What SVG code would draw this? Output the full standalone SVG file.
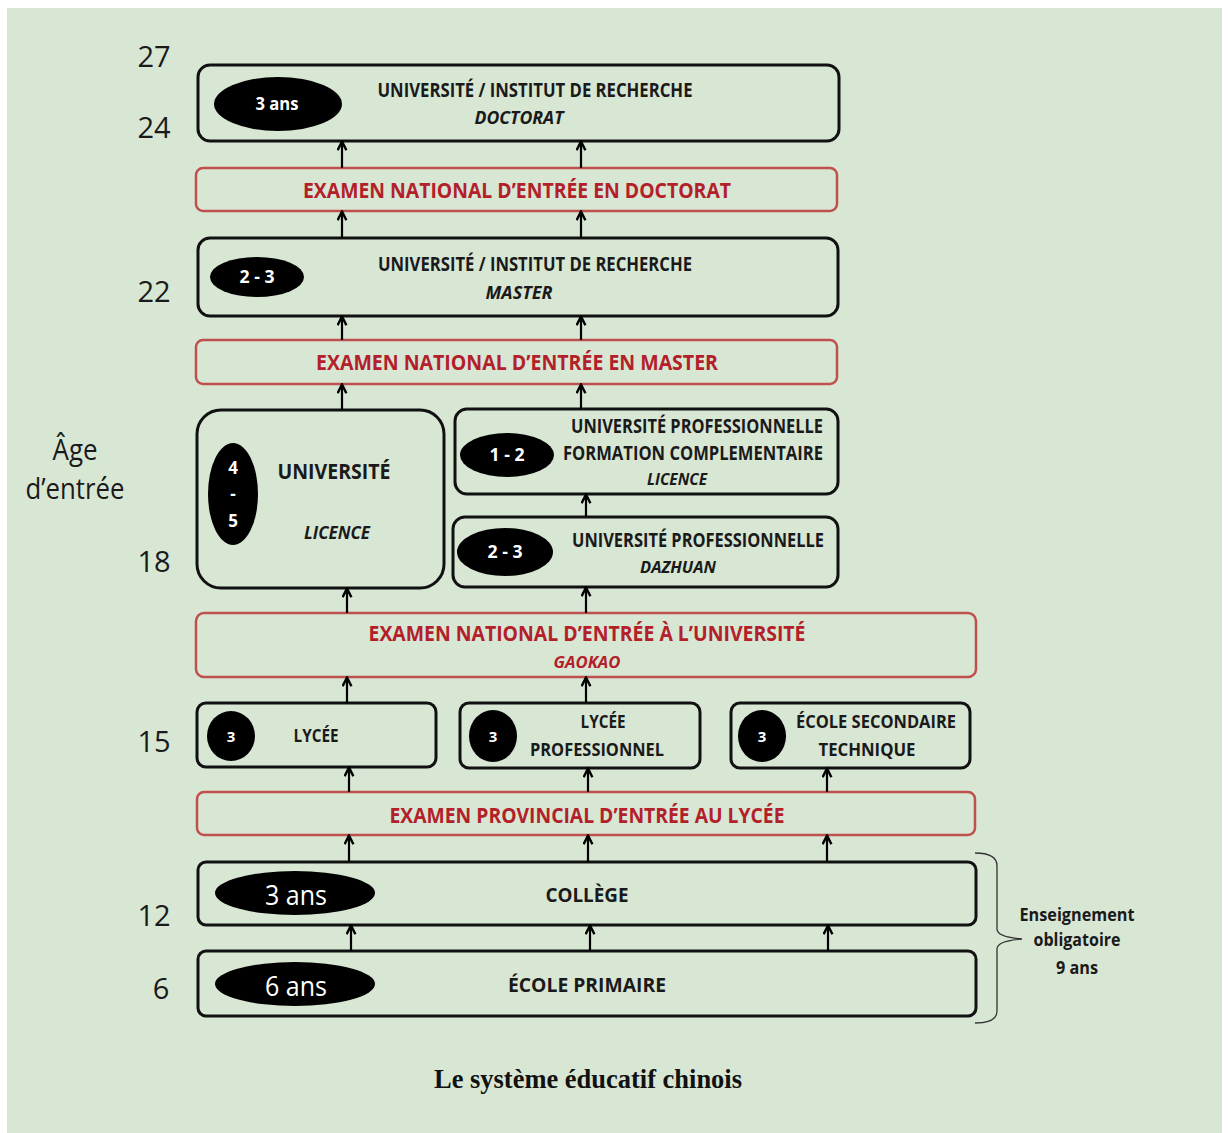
<svg xmlns="http://www.w3.org/2000/svg" width="1230" height="1133" viewBox="0 0 1230 1133">
<defs>
<marker id="arr" viewBox="0 0 10 10" refX="8.5" refY="5" markerWidth="11" markerHeight="11" markerUnits="userSpaceOnUse" orient="auto">
<path d="M1,1 L9,5 L1,9" fill="none" stroke="#000" stroke-width="2.2"/>
</marker>
</defs>
<style>
.box{fill:none;stroke:#111;stroke-width:3}
.exam{fill:none;stroke:#c0504d;stroke-width:2.5}
.t{font-family:"Open Sans","Liberation Sans",sans-serif;font-weight:700;fill:#1a1a1a;text-anchor:middle}
.it{font-style:italic}
.r{fill:#b3202a}
.w{fill:#fff}
.big{font-weight:400;font-size:27px}
.age{font-family:"Open Sans","Liberation Sans",sans-serif;font-size:29px;fill:#1a1a1a;text-anchor:middle}
.conn line{stroke:#000;stroke-width:2.2}
.pill{fill:#000}
</style>
<rect x="0" y="0" width="1230" height="1133" fill="#fff"/>
<rect x="7" y="8" width="1215" height="1125" fill="#d8e6d4"/>

<g id="ages">
<text class="age" x="154" y="67">27</text>
<text class="age" x="154" y="138">24</text>
<text class="age" x="154" y="302">22</text>
<text class="age" x="75" y="460" textLength="45" lengthAdjust="spacingAndGlyphs">Âge</text>
<text class="age" x="75" y="499" textLength="99" lengthAdjust="spacingAndGlyphs">d’entrée</text>
<text class="age" x="154" y="572">18</text>
<text class="age" x="154" y="752">15</text>
<text class="age" x="154" y="926">12</text>
<text class="age" x="161" y="999">6</text>
</g>

<g id="doctorat">
<rect class="box" x="198" y="65" width="641" height="76" rx="12"/>
<ellipse class="pill" cx="278" cy="104" rx="64" ry="27"/>
<text class="t w" x="277" y="110" font-size="17" textLength="43" lengthAdjust="spacingAndGlyphs">3 ans</text>
<text class="t" x="535" y="97" font-size="19" textLength="315" lengthAdjust="spacingAndGlyphs">UNIVERSITÉ / INSTITUT DE RECHERCHE</text>
<text class="t it" x="519" y="124" font-size="18" textLength="89" lengthAdjust="spacingAndGlyphs">DOCTORAT</text>
</g>

<g id="exam-doctorat">
<rect class="exam" x="196" y="168" width="641" height="43" rx="7"/>
<text class="t r" x="517" y="198" font-size="22" textLength="428" lengthAdjust="spacingAndGlyphs">EXAMEN NATIONAL D’ENTRÉE EN DOCTORAT</text>
</g>

<g id="master">
<rect class="box" x="198" y="238" width="640" height="78" rx="12"/>
<ellipse class="pill" cx="257" cy="277" rx="47" ry="20"/>
<text class="t w" x="257" y="283" font-size="17" textLength="35" lengthAdjust="spacingAndGlyphs">2 - 3</text>
<text class="t" x="535" y="271" font-size="19" textLength="314" lengthAdjust="spacingAndGlyphs">UNIVERSITÉ / INSTITUT DE RECHERCHE</text>
<text class="t it" x="519" y="299" font-size="18" textLength="67" lengthAdjust="spacingAndGlyphs">MASTER</text>
</g>

<g id="exam-master">
<rect class="exam" x="196" y="340" width="641" height="44" rx="7"/>
<text class="t r" x="517" y="370" font-size="22" textLength="402" lengthAdjust="spacingAndGlyphs">EXAMEN NATIONAL D’ENTRÉE EN MASTER</text>
</g>

<g id="universite">
<rect class="box" x="197" y="410" width="247" height="178" rx="24"/>
<ellipse class="pill" cx="233" cy="494" rx="25" ry="51"/>
<text class="t w" x="233" y="474" font-size="17">4</text>
<text class="t w" x="233" y="500" font-size="17">-</text>
<text class="t w" x="233" y="527" font-size="17">5</text>
<text class="t" x="334" y="479" font-size="21" textLength="113" lengthAdjust="spacingAndGlyphs">UNIVERSITÉ</text>
<text class="t it" x="337" y="539" font-size="18" textLength="66" lengthAdjust="spacingAndGlyphs">LICENCE</text>
</g>

<g id="univ-pro-licence">
<rect class="box" x="455" y="409" width="383" height="85" rx="12"/>
<ellipse class="pill" cx="507" cy="455" rx="47" ry="22"/>
<text class="t w" x="507" y="461" font-size="17" textLength="35" lengthAdjust="spacingAndGlyphs">1 - 2</text>
<text class="t" x="697" y="433" font-size="19" textLength="252" lengthAdjust="spacingAndGlyphs">UNIVERSITÉ PROFESSIONNELLE</text>
<text class="t" x="693" y="460" font-size="19" textLength="260" lengthAdjust="spacingAndGlyphs">FORMATION COMPLEMENTAIRE</text>
<text class="t it" x="677" y="485" font-size="16" textLength="60" lengthAdjust="spacingAndGlyphs">LICENCE</text>
</g>

<g id="univ-pro-dazhuan">
<rect class="box" x="453" y="517" width="385" height="70" rx="12"/>
<ellipse class="pill" cx="505" cy="552" rx="48" ry="24"/>
<text class="t w" x="505" y="558" font-size="17" textLength="35" lengthAdjust="spacingAndGlyphs">2 - 3</text>
<text class="t" x="698" y="547" font-size="19" textLength="252" lengthAdjust="spacingAndGlyphs">UNIVERSITÉ PROFESSIONNELLE</text>
<text class="t it" x="678" y="573" font-size="16" textLength="76" lengthAdjust="spacingAndGlyphs">DAZHUAN</text>
</g>

<g id="exam-universite">
<rect class="exam" x="196" y="613" width="780" height="64" rx="8"/>
<text class="t r" x="587" y="641" font-size="22" textLength="437" lengthAdjust="spacingAndGlyphs">EXAMEN NATIONAL D’ENTRÉE À L’UNIVERSITÉ</text>
<text class="t r it" x="587" y="668" font-size="16" textLength="67" lengthAdjust="spacingAndGlyphs">GAOKAO</text>
</g>

<g id="lycee">
<rect class="box" x="197" y="703" width="239" height="64" rx="9"/>
<ellipse class="pill" cx="231" cy="736" rx="24" ry="25"/>
<text class="t w" x="231" y="742" font-size="15">3</text>
<text class="t" x="316" y="742" font-size="17" textLength="45" lengthAdjust="spacingAndGlyphs">LYCÉE</text>
</g>

<g id="lycee-pro">
<rect class="box" x="460" y="703" width="240" height="65" rx="9"/>
<ellipse class="pill" cx="493" cy="736" rx="24" ry="26"/>
<text class="t w" x="493" y="742" font-size="15">3</text>
<text class="t" x="603" y="728" font-size="17" textLength="45" lengthAdjust="spacingAndGlyphs">LYCÉE</text>
<text class="t" x="597" y="756" font-size="17" textLength="134" lengthAdjust="spacingAndGlyphs">PROFESSIONNEL</text>
</g>

<g id="ecole-tech">
<rect class="box" x="731" y="703" width="239" height="65" rx="9"/>
<ellipse class="pill" cx="762" cy="736" rx="24" ry="26"/>
<text class="t w" x="762" y="742" font-size="15">3</text>
<text class="t" x="876" y="728" font-size="17" textLength="160" lengthAdjust="spacingAndGlyphs">ÉCOLE SECONDAIRE</text>
<text class="t" x="867" y="756" font-size="17" textLength="97" lengthAdjust="spacingAndGlyphs">TECHNIQUE</text>
</g>

<g id="exam-lycee">
<rect class="exam" x="197" y="792" width="778" height="43" rx="7"/>
<text class="t r" x="587" y="823" font-size="22" textLength="395" lengthAdjust="spacingAndGlyphs">EXAMEN PROVINCIAL D’ENTRÉE AU LYCÉE</text>
</g>

<g id="college">
<rect class="box" x="198" y="862" width="778" height="63" rx="8"/>
<ellipse class="pill" cx="295" cy="893" rx="80" ry="22"/>
<text class="t w big" x="296" y="905" textLength="62" lengthAdjust="spacingAndGlyphs">3 ans</text>
<text class="t" x="587" y="902" font-size="19" textLength="83" lengthAdjust="spacingAndGlyphs">COLLÈGE</text>
</g>

<g id="primaire">
<rect class="box" x="198" y="951" width="778" height="65" rx="8"/>
<ellipse class="pill" cx="295" cy="984" rx="80" ry="22"/>
<text class="t w big" x="296" y="996" textLength="62" lengthAdjust="spacingAndGlyphs">6 ans</text>
<text class="t" x="587" y="992" font-size="19" textLength="158" lengthAdjust="spacingAndGlyphs">ÉCOLE PRIMAIRE</text>
</g>

<g id="obligatoire">
<path d="M975,853 Q997,853 997,866 L997,929 Q997,937 1022,939 Q997,941 997,949 L997,1011 Q997,1023 975,1023" fill="none" stroke="#333" stroke-width="1.3"/>
<text class="t" x="1077" y="921" font-size="17" textLength="115" lengthAdjust="spacingAndGlyphs">Enseignement</text>
<text class="t" x="1077" y="946" font-size="17" textLength="87" lengthAdjust="spacingAndGlyphs">obligatoire</text>
<text class="t" x="1077" y="974" font-size="17" textLength="42" lengthAdjust="spacingAndGlyphs">9 ans</text>
</g>

<g id="connectors" class="conn">
<line x1="342" y1="168" x2="342" y2="142" marker-end="url(#arr)"/>
<line x1="581" y1="168" x2="581" y2="142" marker-end="url(#arr)"/>
<line x1="342" y1="238" x2="342" y2="212" marker-end="url(#arr)"/>
<line x1="581" y1="238" x2="581" y2="212" marker-end="url(#arr)"/>
<line x1="342" y1="340" x2="342" y2="317" marker-end="url(#arr)"/>
<line x1="581" y1="340" x2="581" y2="317" marker-end="url(#arr)"/>
<line x1="342" y1="410" x2="342" y2="385" marker-end="url(#arr)"/>
<line x1="581" y1="409" x2="581" y2="385" marker-end="url(#arr)"/>
<line x1="586" y1="517" x2="586" y2="495" marker-end="url(#arr)"/>
<line x1="347" y1="613" x2="347" y2="589" marker-end="url(#arr)"/>
<line x1="586" y1="613" x2="586" y2="588" marker-end="url(#arr)"/>
<line x1="347" y1="703" x2="347" y2="678" marker-end="url(#arr)"/>
<line x1="586" y1="703" x2="586" y2="678" marker-end="url(#arr)"/>
<line x1="349" y1="792" x2="349" y2="768" marker-end="url(#arr)"/>
<line x1="588" y1="792" x2="588" y2="769" marker-end="url(#arr)"/>
<line x1="827" y1="792" x2="827" y2="769" marker-end="url(#arr)"/>
<line x1="349" y1="862" x2="349" y2="836" marker-end="url(#arr)"/>
<line x1="588" y1="862" x2="588" y2="836" marker-end="url(#arr)"/>
<line x1="827" y1="862" x2="827" y2="836" marker-end="url(#arr)"/>
<line x1="351" y1="951" x2="351" y2="926" marker-end="url(#arr)"/>
<line x1="590" y1="951" x2="590" y2="926" marker-end="url(#arr)"/>
<line x1="828" y1="951" x2="828" y2="926" marker-end="url(#arr)"/>
</g>

<text x="588" y="1088" font-family="'Liberation Serif',serif" font-weight="700" font-size="27" text-anchor="middle" fill="#111" textLength="308" lengthAdjust="spacingAndGlyphs">Le système éducatif chinois</text>
</svg>
